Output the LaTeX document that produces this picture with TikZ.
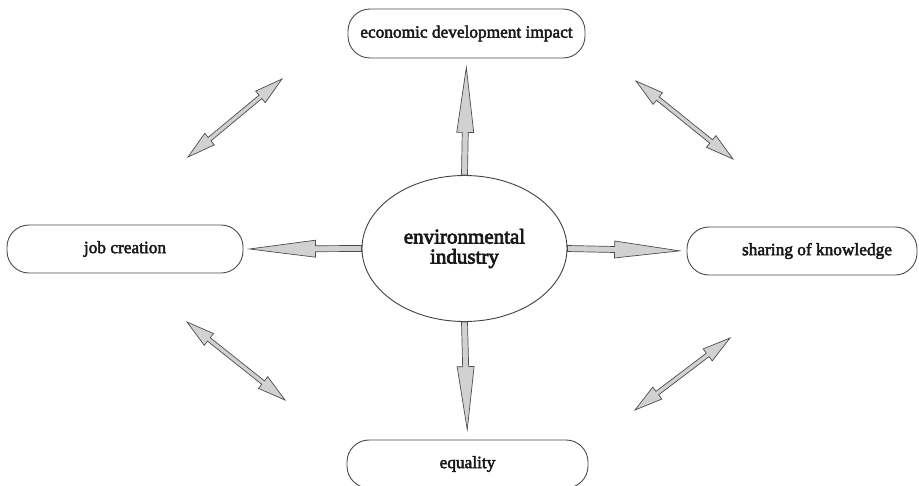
\documentclass[tikz,border=0pt]{standalone}
\usepackage{fontspec}
\setmainfont{Liberation Serif}[FakeBold=2.6]
\newfontfamily\heavyserif{Liberation Serif}[FakeBold=3.4]
\usetikzlibrary{shapes.geometric,calc}
\tikzset{
  boxstyle/.style={draw=black!70, line width=0.9pt, rounded corners=22pt, inner sep=0pt,
    text=black!90, font=\fontsize{17.3}{18}\selectfont},
  ellstyle/.style={ellipse, draw=black!75, line width=0.9pt, inner sep=0pt,
    text=black!90, align=center, font=\heavyserif\fontsize{21}{20}\selectfont},
  arrowshape/.style={fill=black!18, draw=black!70, line width=0.7pt, line join=miter},
}
% single fat arrow: start, target, gap, shaft half width, head half width, head length
\newcommand{\fatarrowsingle}[6]{%
  \path (#1) coordinate (aS) ($(#2)!#3!(#1)$) coordinate (aT);
  \path ($(aT)!#6!(aS)$) coordinate (aB);
  \filldraw[arrowshape] ($(aS)!#4!90:(aT)$) -- ($(aB)!#4!-90:(aS)$) -- ($(aB)!#5!-90:(aS)$)
    -- (aT) -- ($(aB)!#5!90:(aS)$) -- ($(aB)!#4!90:(aS)$) -- ($(aS)!#4!-90:(aT)$) -- cycle;
}
% double fat arrow: end1, end2, shaft half width, head half width, head length
\newcommand{\fatarrowdouble}[5]{%
  \path ($(#1)!#5!(#2)$) coordinate (bS) ($(#2)!#5!(#1)$) coordinate (bT);
  \filldraw[arrowshape] (#2) -- ($(bT)!#4!-90:(#1)$) -- ($(bT)!#3!-90:(#1)$)
    -- ($(bS)!#3!90:(#2)$) -- ($(bS)!#4!90:(#2)$) -- (#1) -- ($(bS)!#4!-90:(#2)$)
    -- ($(bS)!#3!-90:(#2)$) -- ($(bT)!#3!90:(#1)$) -- ($(bT)!#4!90:(#1)$) -- cycle;
}
\begin{document}
\begin{tikzpicture}[x=1pt,y=-1pt]
\useasboundingbox (0,0) rectangle (919,485);
\fill[white] (0,0) rectangle (919,485);

\node[ellstyle, minimum width=205pt, minimum height=146pt] (ell) at (464.5,248.5)
  {environmental\\industry};

\node[boxstyle, minimum width=237pt, minimum height=49pt] (top) at (466.5,33.5)
  {economic development impact};
\node[boxstyle, minimum width=236pt, minimum height=48pt] (job) at (125,249)
  {job creation\hspace{21pt}};
\node[boxstyle, minimum width=230pt, minimum height=48pt] (share) at (802,251)
  {\hspace{30pt}sharing of knowledge};
\node[boxstyle, minimum width=241pt, minimum height=48pt] (eq) at (467.5,464)
  {equality\hspace{23pt}};

\fatarrowsingle{ell.north}{top.south}{9pt}{3pt}{8.5pt}{65pt}
\fatarrowsingle{ell.south}{eq.north}{10pt}{3pt}{8.5pt}{63pt}
\fatarrowsingle{ell.west}{job.east}{6pt}{3pt}{8.5pt}{66pt}
\fatarrowsingle{ell.east}{share.west}{7pt}{3pt}{8.5pt}{65pt}

\coordinate (tl1) at (188,157); \coordinate (tl2) at (282,79);
\coordinate (tr1) at (636,81);  \coordinate (tr2) at (733,159);
\coordinate (bl1) at (187,322); \coordinate (bl2) at (285,400);
\coordinate (br1) at (635,410); \coordinate (br2) at (730,338);

\fatarrowdouble{tl1}{tl2}{2.2pt}{7.5pt}{28pt}
\fatarrowdouble{tr1}{tr2}{2.2pt}{7.5pt}{28pt}
\fatarrowdouble{bl1}{bl2}{2.2pt}{7.5pt}{28pt}
\fatarrowdouble{br1}{br2}{2.2pt}{7.5pt}{28pt}
\end{tikzpicture}
\end{document}
